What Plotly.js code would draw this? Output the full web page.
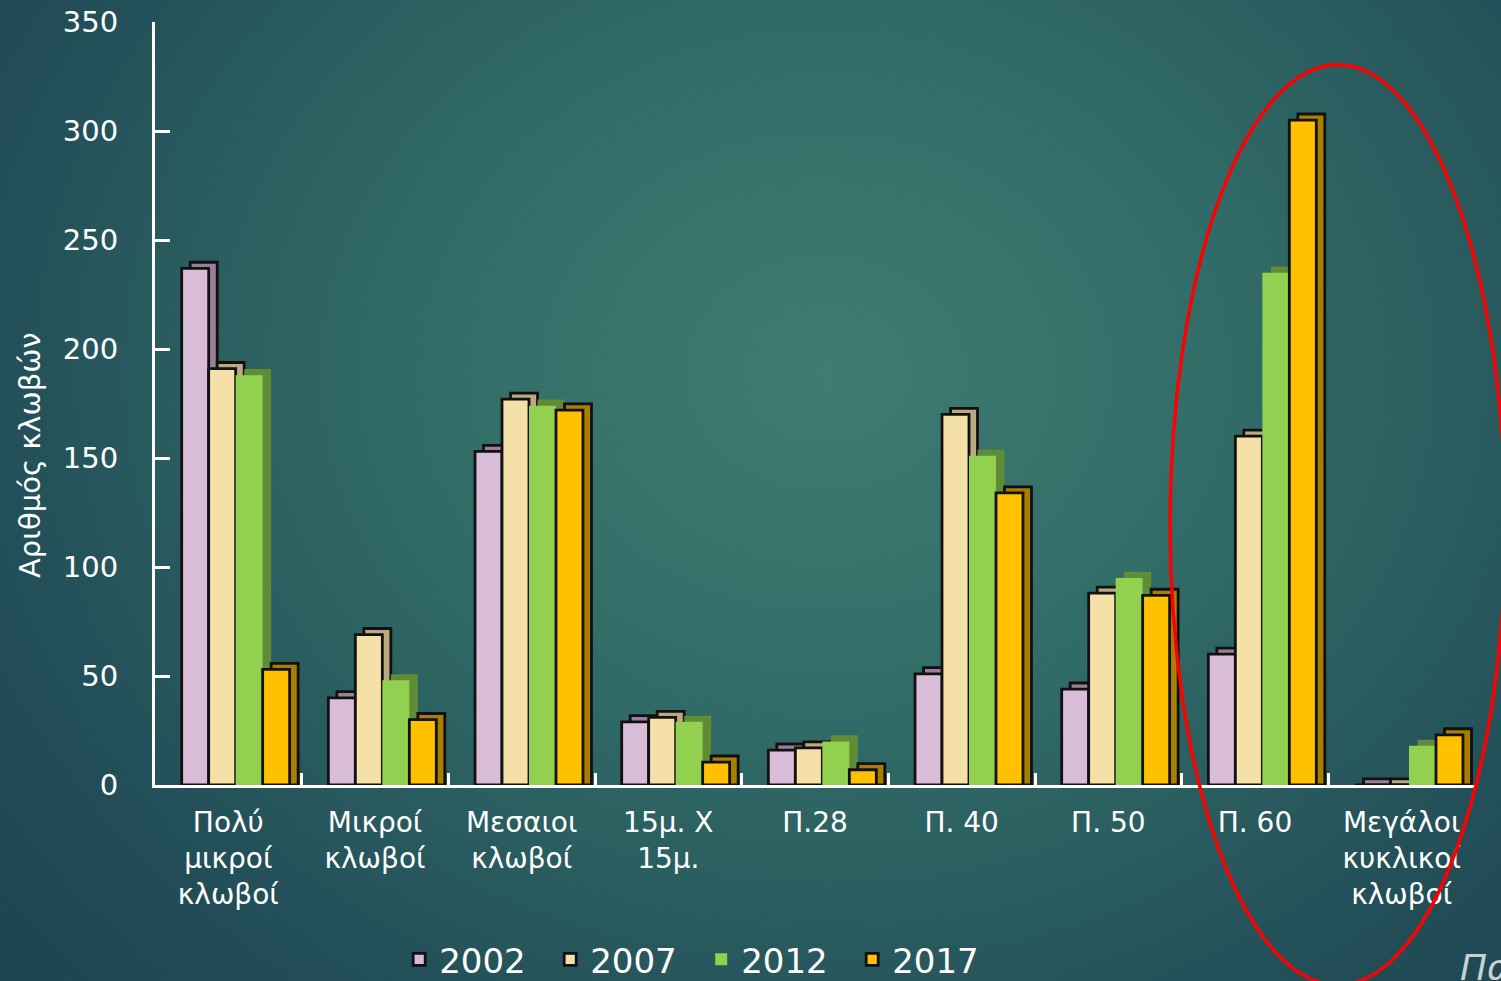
<!DOCTYPE html>
<html><head><meta charset="utf-8">
<script src="https://cdn.plot.ly/plotly-3.0.1.min.js"></script>
<style>
html,body{margin:0;padding:0;width:1501px;height:981px;overflow:hidden;}
body{background: radial-gradient(ellipse 70% 90% at 55% 38%, #3f7c71 0%, #316b67 40%, #234f58 80%, #1d4552 100%);}
#chart{width:1501px;height:981px;}
</style></head><body><div id="chart"></div>
<script>
const categories = ['Πολύ<br>μικροί<br>κλωβοί','Μικροί<br>κλωβοί','Μεσαιοι<br>κλωβοί','15μ. Χ<br>15μ.','Π.28','Π. 40','Π. 50','Π. 60','Μεγάλοι<br>κυκλικοί<br>κλωβοί'];
const years = ['2002','2007','2012','2017'];
const v2002 = [237, 40, 153, 29, 16, 51, 44, 60, 0];
const v2007 = [191, 69, 177, 31, 17, 170, 88, 160, 0];
const v2012 = [188, 48, 174, 29, 20, 151, 95, 235, 18];
const v2017 = [53, 30, 172, 10.5, 7, 134, 87, 305, 23];
const yTitle = 'Αριθμός κλωβών';
const seriesValues = [v2002, v2007, v2012, v2017];
const frontColors = ['#d8bcd8', '#f5e0a8', '#92d050', '#ffc000'];
const sideColors  = ['#9a7f99', '#bba97f', '#5f8c35', '#a97f00'];
const outlined    = [true, true, false, true];

const barW = 0.184, startOff = -0.318, depthX = 0.058, depthY = 2.8;
const traces = [];
seriesValues.forEach((vals, i) => {
  const off = startOff + i * barW;
  const line = outlined[i] ? {color:'#111', width:2.8} : {width:0};
  traces.push({
    type:'bar', x:categories, y:vals.map(v => v + depthY), base:0,
    offset: off + depthX, width: barW,
    marker:{color:sideColors[i], line:line},
    showlegend:false, hoverinfo:'skip', legendgroup:years[i]
  });
  traces.push({
    type:'bar', name:years[i], x:categories, y:vals,
    offset: off, width: barW,
    marker:{color:frontColors[i], line:line},
    legendgroup:years[i]
  });
});

const layout = {
  width:1501, height:981,
  paper_bgcolor:'rgba(0,0,0,0)', plot_bgcolor:'rgba(0,0,0,0)',
  margin:{l:155, r:26, t:22, b:196, autoexpand:false},
  barmode:'overlay',
  font:{family:'DejaVu Sans, sans-serif', color:'#ffffff'},
  xaxis:{type:'category', range:[-0.5, 8.5], showline:true, linecolor:'#ffffff', linewidth:3,
    ticks:'inside', tickson:'boundaries', ticklen:12, tickwidth:3, tickcolor:'#ffffff',
    tickfont:{size:28, color:'#ffffff'}, showgrid:false, zeroline:false, ticklabelstandoff:10, automargin:false},
  yaxis:{range:[0, 350], dtick:50, showline:true, linecolor:'#ffffff', linewidth:3,
    ticks:'inside', ticklen:15, tickwidth:3, tickcolor:'#ffffff',
    tickfont:{size:29, color:'#ffffff'}, showgrid:false, zeroline:false, ticklabelstandoff:28, automargin:false},
  legend:{orientation:'h', x:0.185, xanchor:'left', y:-0.229, yanchor:'middle',
    font:{size:34, color:'#ffffff'}, entrywidth:106, bgcolor:'rgba(0,0,0,0)'},
  shapes:[{type:'circle', xref:'paper', yref:'paper', x0:0.769, x1:1.023, y0:-0.262, y1:0.944,
    line:{color:'#ff0000', width:3.5}}],
  annotations:[
    {xref:'paper', yref:'paper', x:-0.0947, y:0.4325, xanchor:'center', yanchor:'middle', textangle:-90,
      text:yTitle, showarrow:false, font:{size:29, color:'#ffffff'}},
    {xref:'paper', yref:'paper', x:0.987, y:-0.239, xanchor:'left', yanchor:'middle',
    text:'<i>Πα</i>', showarrow:false, font:{size:36, color:'#c9d1d1'}}]
};
Plotly.newPlot('chart', traces, layout, {displayModeBar:false, staticPlot:true});
</script></body></html>
